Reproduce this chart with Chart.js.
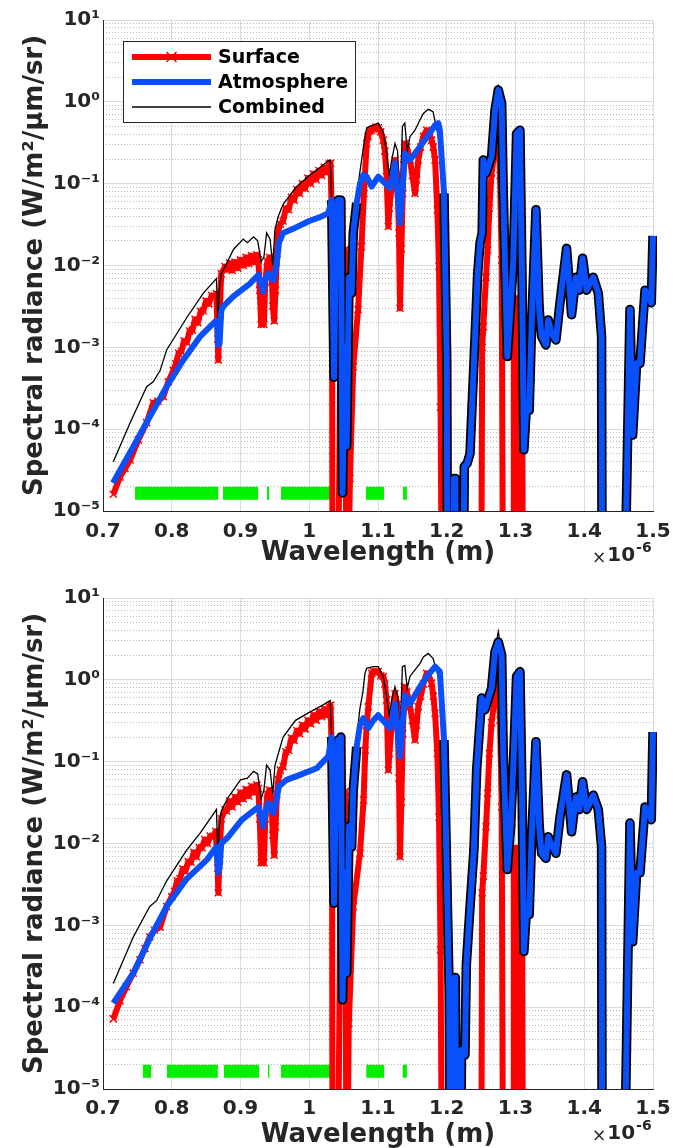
<!DOCTYPE html>
<html>
<head>
<meta charset="utf-8">
<script src="https://cdn.jsdelivr.net/npm/chart.js@4/dist/chart.umd.min.js"></script>
<style>
  body { margin: 0; background: #fff; }
  canvas { display: block; }
</style>
</head>
<body>
<canvas id="topChart" width="686" height="574"></canvas>
<canvas id="bottomChart" width="686" height="574"></canvas>
<script>
// Wavelength in um (axis shows x 1e-6 m), radiance in W/m2/um/sr
// Values below 1e-5 (1e-7) fall off the bottom of the axis

// ---- top panel ----
const surfaceTop = [
  [0.715, 1.6e-5], [0.7247, 2.6e-5], [0.732, 3.3e-5], [0.7393, 4.2e-5], [0.7514, 7.4e-5],
  [0.7635, 1.2e-4], [0.7732, 2.1e-4], [0.780, 2.2e-4], [0.7877, 2.5e-4], [0.795, 3.8e-4],
  [0.8023, 5.2e-4], [0.806, 6.3e-4], [0.810, 8.5e-4], [0.814, 8.9e-4], [0.818, 1.2e-3],
  [0.822, 1.15e-3], [0.826, 1.58e-3], [0.830, 1.62e-3], [0.834, 2.2e-3], [0.838, 2.0e-3],
  [0.842, 2.75e-3], [0.846, 2.8e-3], [0.850, 3.7e-3], [0.854, 3.4e-3], [0.858, 4.3e-3],
  [0.862, 4.2e-3], [0.865, 4.5e-3], [0.8668, 1.26e-3], [0.8677, 7.0e-4], [0.8695, 2.5e-3],
  [0.872, 7.9e-3], [0.8775, 9.7e-3], [0.880, 8.9e-3], [0.884, 1.07e-2], [0.888, 8.7e-3],
  [0.892, 1.1e-2], [0.896, 9.3e-3], [0.900, 1.17e-2], [0.904, 1.0e-2], [0.908, 1.26e-2],
  [0.912, 1.05e-2], [0.916, 1.32e-2], [0.920, 1.1e-2], [0.924, 1.35e-2], [0.926, 1.17e-2],
  [0.928, 5.0e-3], [0.930, 1.9e-3], [0.932, 2.5e-3], [0.934, 1.9e-3], [0.936, 6.3e-3],
  [0.939, 1.12e-2], [0.942, 1.26e-2], [0.945, 1.0e-2], [0.947, 3.2e-3], [0.949, 2.1e-3],
  [0.951, 5.0e-3], [0.953, 1.4e-2], [0.955, 2.7e-2], [0.958, 3.2e-2], [0.962, 3.5e-2],
  [0.966, 5.0e-2], [0.970, 4.8e-2], [0.974, 6.8e-2], [0.978, 6.3e-2], [0.982, 8.5e-2],
  [0.986, 7.6e-2], [0.990, 0.1], [0.994, 8.7e-2], [0.998, 0.117], [1.002, 0.1],
  [1.006, 0.132], [1.010, 0.112], [1.014, 0.145], [1.018, 0.126], [1.022, 0.158],
  [1.026, 0.138], [1.029, 0.174], [1.031, 0.178], [1.033, 3.2e-2], [1.034, 1e-7],
  [1.041, 1e-7], [1.046, 6.3e-3], [1.049, 1.26e-2], [1.052, 1.55e-2], [1.0545, 1e-7],
  [1.0592, 2.5e-5], [1.064, 5.8e-4], [1.071, 2.9e-3], [1.076, 1.7e-2], [1.0795, 7.6e-2],
  [1.0835, 0.31], [1.0855, 0.38], [1.088, 0.44], [1.0908, 0.45], [1.0935, 0.47],
  [1.097, 0.49], [1.1004, 0.48], [1.104, 0.43], [1.1077, 0.34], [1.110, 0.25],
  [1.1125, 0.122], [1.115, 3.0e-2], [1.1165, 5.0e-2], [1.1198, 9.1e-2], [1.1225, 0.141],
  [1.1247, 0.195], [1.128, 0.126], [1.1305, 2.5e-2], [1.132, 3.0e-3], [1.134, 1.6e-2],
  [1.136, 7.6e-2], [1.1375, 0.2], [1.1393, 0.31], [1.142, 0.28], [1.1465, 0.195],
  [1.150, 0.126], [1.1538, 7.6e-2], [1.156, 0.112], [1.1586, 0.195], [1.162, 0.28],
  [1.166, 0.38], [1.1707, 0.45], [1.174, 0.43], [1.178, 0.34], [1.1805, 0.28],
  [1.183, 0.195], [1.1863, 4.8e-2], [1.1887, 9.8e-3], [1.191, 1.86e-4], [1.1935, 1e-7],
  [1.250, 1e-7], [1.2515, 1.0e-3], [1.2532, 1.78e-3], [1.2571, 7.2e-3], [1.2595, 1.55e-2],
  [1.262, 5.0e-2], [1.2652, 0.135], [1.2724, 0.37], [1.275, 0.40], [1.2775, 0.126],
  [1.2799, 1.17e-2], [1.2822, 1e-7], [1.2965, 1e-7], [1.2975, 3.8e-3], [1.299, 1e-7],
  [1.3005, 4.0e-3], [1.302, 1e-7], [1.3035, 3.8e-3], [1.305, 1e-7], [1.3065, 3.5e-3],
  [1.308, 1e-7], [1.3095, 3.2e-3], [1.311, 1e-7]
];

const atmosphereTop = [
  [0.7145, 2.2e-5], [0.744, 6.1e-5], [0.768, 1.42e-4], [0.7926, 3.3e-4], [0.8168, 7.0e-4],
  [0.841, 1.35e-3], [0.863, 2.06e-3], [0.866, 2.1e-3], [0.8675, 1.07e-3], [0.8695, 1.1e-3],
  [0.872, 2.8e-3], [0.875, 3.16e-3], [0.8896, 4.2e-3], [0.9138, 6.0e-3], [0.926, 7.7e-3],
  [0.929, 6.3e-3], [0.933, 4.8e-3], [0.937, 7.1e-3], [0.9405, 8.0e-3], [0.9477, 6.6e-3],
  [0.9525, 1.0e-2], [0.956, 1.9e-2], [0.962, 2.5e-2], [0.980, 2.9e-2], [1.000, 3.5e-2],
  [1.0156, 3.9e-2], [1.0277, 4.35e-2], [1.0326, 6.3e-2], [1.036, 4.3e-4], [1.039, 3.2e-2],
  [1.042, 6.3e-2], [1.044, 1.0e-2], [1.046, 6.3e-2], [1.0484, 1.66e-5], [1.052, 1.0e-3],
  [1.0544, 6.2e-5], [1.058, 7.2e-3], [1.0617, 4.6e-3], [1.064, 2.5e-2], [1.069, 5.8e-2],
  [1.0738, 0.10], [1.0787, 0.128], [1.0835, 0.122], [1.0908, 9.2e-2], [1.1004, 0.122],
  [1.1175, 8.8e-2], [1.1247, 0.178], [1.132, 3.3e-2], [1.1393, 0.234], [1.1465, 0.195],
  [1.161, 0.283], [1.175, 0.41], [1.183, 0.52], [1.1877, 0.55], [1.190, 0.45],
  [1.196, 7.6e-2], [1.2, 7.0e-4], [1.2015, 1e-7], [1.209, 1e-7], [1.2105, 2.5e-5],
  [1.2125, 2.5e-5], [1.214, 1e-7], [1.2235, 1e-7], [1.2255, 3.5e-5], [1.2295, 3.8e-5],
  [1.2338, 5.0e-5], [1.2395, 6.3e-4], [1.245, 7.9e-3], [1.2485, 1.9e-2], [1.2515, 2.5e-2],
  [1.2532, 0.195], [1.2571, 0.134], [1.2652, 0.214], [1.2702, 0.79], [1.275, 1.40],
  [1.2799, 0.96], [1.2822, 7.6e-2], [1.2881, 7.7e-4], [1.293, 3.16e-3], [1.2968, 1.17e-2],
  [1.3016, 0.41], [1.3065, 0.45], [1.3098, 4.6e-3], [1.3122, 5.6e-5], [1.3162, 2.1e-4],
  [1.3199, 1.7e-4], [1.3234, 1.78e-3], [1.3297, 4.8e-2], [1.3345, 2.9e-3], [1.338, 1.35e-3],
  [1.3442, 1.07e-3], [1.3476, 2.16e-3], [1.3525, 1.48e-3], [1.3588, 1.23e-3], [1.3647, 3.5e-3],
  [1.3743, 1.62e-2], [1.3816, 2.5e-3], [1.3879, 7.2e-3], [1.3927, 5.0e-3], [1.3976, 1.23e-2],
  [1.4035, 5.0e-3], [1.4131, 7.2e-3], [1.4204, 4.6e-3], [1.4252, 1.35e-3], [1.4262, 1e-7],
  [1.4568, 1e-7], [1.4665, 2.9e-3], [1.4704, 8.5e-5], [1.4762, 6.4e-4], [1.4811, 6.4e-4],
  [1.4884, 5.0e-3], [1.4975, 3.5e-3], [1.5, 2.3e-2]
];

const combinedTop = [
  [0.715, 4.0e-5], [0.739, 1.17e-4], [0.7635, 3.3e-4], [0.773, 3.8e-4], [0.783, 5.2e-4],
  [0.7926, 9.3e-4], [0.8217, 2.3e-3], [0.846, 4.6e-3], [0.865, 6.9e-3], [0.8672, 2.0e-3],
  [0.869, 5.0e-3], [0.872, 7.9e-3], [0.880, 1.07e-2], [0.890, 1.58e-2], [0.904, 2.1e-2],
  [0.910, 1.9e-2], [0.919, 2.24e-2], [0.925, 2.0e-2], [0.930, 1.12e-2], [0.934, 1.26e-2],
  [0.938, 2.5e-2], [0.943, 2.1e-2], [0.947, 1.0e-2], [0.950, 2.7e-2], [0.955, 4.0e-2],
  [0.962, 5.6e-2], [0.980, 8.9e-2], [1.000, 0.126], [1.0156, 0.158], [1.0277, 0.19],
  [1.0305, 0.195], [1.0326, 6.3e-2], [1.036, 5.0e-4], [1.039, 3.2e-2], [1.042, 6.3e-2],
  [1.044, 1.0e-2], [1.046, 6.3e-2], [1.0484, 3.2e-5], [1.052, 2.0e-3], [1.0544, 1.0e-4],
  [1.058, 1.0e-2], [1.0617, 5.0e-3], [1.064, 3.2e-2], [1.069, 7.1e-2], [1.0738, 0.141],
  [1.078, 0.25], [1.081, 0.375], [1.0835, 0.48], [1.0932, 0.52], [1.1004, 0.55],
  [1.1077, 0.43], [1.1125, 0.234], [1.1163, 0.128], [1.1198, 0.19], [1.1247, 0.31],
  [1.1285, 0.25], [1.132, 4.0e-2], [1.1355, 0.5], [1.139, 0.55], [1.1425, 0.25],
  [1.1465, 0.375], [1.1538, 0.45], [1.161, 0.6], [1.166, 0.72], [1.173, 0.81],
  [1.180, 0.76], [1.1877, 0.375], [1.192, 0.158], [1.196, 7.6e-2], [1.2, 7.0e-4],
  [1.2015, 1e-7], [1.209, 1e-7], [1.2105, 2.5e-5], [1.2125, 2.5e-5], [1.214, 1e-7],
  [1.2235, 1e-7], [1.2255, 3.5e-5], [1.2295, 3.8e-5], [1.2338, 5.0e-5], [1.2395, 6.3e-4],
  [1.245, 7.9e-3], [1.2485, 1.9e-2], [1.2515, 2.5e-2], [1.2532, 0.195], [1.2571, 0.134],
  [1.2652, 0.214], [1.2702, 0.89], [1.275, 1.53], [1.2799, 1.0], [1.2822, 7.6e-2],
  [1.2881, 7.7e-4], [1.293, 3.16e-3], [1.2968, 1.17e-2], [1.3016, 0.41], [1.3065, 0.45],
  [1.3098, 4.6e-3], [1.3122, 5.6e-5], [1.3162, 2.1e-4], [1.3199, 1.7e-4], [1.3234, 1.78e-3],
  [1.3297, 4.8e-2], [1.3345, 2.9e-3], [1.338, 1.35e-3], [1.3442, 1.07e-3], [1.3476, 2.16e-3],
  [1.3525, 1.48e-3], [1.3588, 1.23e-3], [1.3647, 3.5e-3], [1.3743, 1.62e-2], [1.3816, 2.5e-3],
  [1.3879, 7.2e-3], [1.3927, 5.0e-3], [1.3976, 1.23e-2], [1.4035, 5.0e-3], [1.4131, 7.2e-3],
  [1.4204, 4.6e-3], [1.4252, 1.35e-3], [1.4262, 1e-7], [1.4568, 1e-7], [1.4665, 2.9e-3],
  [1.4704, 8.5e-5], [1.4762, 6.4e-4], [1.4811, 6.4e-4], [1.4884, 5.0e-3], [1.4975, 3.5e-3],
  [1.5, 2.3e-2]
];

// green window bars [start, end]
const windowsTop = [
  [0.7466, 0.8676], [0.8746, 0.9255], [0.9385, 0.9415], [0.959, 1.033],
  [1.0826, 1.1087], [1.1364, 1.142]
];

// ---- bottom panel ----
const surfaceBottom = [
  [0.715, 7.2e-5], [0.7247, 1.2e-4], [0.734, 1.78e-4], [0.744, 2.6e-4], [0.7538, 3.8e-4],
  [0.761, 5.2e-4], [0.768, 7.2e-4], [0.775, 8.7e-4], [0.783, 9.5e-4], [0.7926, 1.7e-3],
  [0.800, 2.24e-3], [0.804, 2.6e-3], [0.808, 3.5e-3], [0.812, 3.7e-3], [0.816, 4.9e-3],
  [0.820, 4.6e-3], [0.824, 6.0e-3], [0.828, 5.9e-3], [0.832, 7.8e-3], [0.836, 6.9e-3],
  [0.840, 8.9e-3], [0.844, 8.9e-3], [0.848, 1.12e-2], [0.852, 1.0e-2], [0.856, 1.23e-2],
  [0.860, 1.23e-2], [0.864, 1.41e-2], [0.8668, 5.0e-3], [0.8677, 2.5e-3], [0.8695, 6.3e-3],
  [0.872, 2.0e-2], [0.8775, 2.6e-2], [0.880, 2.5e-2], [0.884, 3.3e-2], [0.888, 2.8e-2],
  [0.892, 3.7e-2], [0.896, 3.2e-2], [0.900, 4.2e-2], [0.904, 3.5e-2], [0.908, 4.6e-2],
  [0.912, 3.8e-2], [0.916, 5.0e-2], [0.920, 4.2e-2], [0.924, 5.2e-2], [0.926, 4.7e-2],
  [0.928, 2.0e-2], [0.930, 5.8e-3], [0.932, 7.9e-3], [0.934, 5.8e-3], [0.936, 2.0e-2],
  [0.939, 4.0e-2], [0.942, 4.5e-2], [0.945, 3.5e-2], [0.947, 1.26e-2], [0.949, 7.2e-3],
  [0.951, 1.6e-2], [0.953, 4.0e-2], [0.955, 6.0e-2], [0.958, 7.9e-2], [0.962, 8.7e-2],
  [0.966, 0.132], [0.970, 0.138], [0.974, 0.195], [0.978, 0.182], [0.982, 0.24],
  [0.986, 0.22], [0.990, 0.28], [0.994, 0.25], [0.998, 0.32], [1.002, 0.29],
  [1.006, 0.37], [1.010, 0.32], [1.014, 0.41], [1.018, 0.355], [1.022, 0.44],
  [1.026, 0.37], [1.029, 0.47], [1.031, 0.49], [1.033, 0.1], [1.034, 1e-7],
  [1.041, 1e-7], [1.046, 1.6e-2], [1.049, 4.0e-2], [1.052, 4.3e-2], [1.0545, 1e-7],
  [1.0575, 6.3e-5], [1.064, 1.7e-3], [1.0738, 7.6e-3], [1.079, 3.4e-2], [1.0815, 0.138],
  [1.0835, 0.28], [1.086, 0.47], [1.0908, 1.2], [1.0935, 1.26], [1.097, 1.26],
  [1.1004, 1.26], [1.104, 1.12], [1.1077, 1.1], [1.110, 0.89], [1.1125, 0.57],
  [1.115, 7.9e-2], [1.1165, 0.126], [1.1198, 0.27], [1.1225, 0.40], [1.1247, 0.68],
  [1.128, 0.50], [1.1305, 6.3e-2], [1.132, 6.9e-3], [1.134, 3.2e-2], [1.136, 0.22],
  [1.1375, 0.50], [1.1393, 0.82], [1.142, 0.71], [1.1465, 0.47], [1.150, 0.32],
  [1.1538, 0.184], [1.156, 0.28], [1.1586, 0.47], [1.162, 0.63], [1.166, 0.89],
  [1.1707, 1.2], [1.174, 1.12], [1.178, 0.91], [1.1805, 0.63], [1.183, 0.39],
  [1.1863, 0.126], [1.1887, 2.1e-2], [1.191, 5.0e-4], [1.1935, 1e-7], [1.250, 1e-7],
  [1.2515, 2.5e-3], [1.2532, 4.0e-3], [1.2571, 1.6e-2], [1.2595, 4.1e-2], [1.262, 0.126],
  [1.2652, 0.30], [1.2724, 0.91], [1.275, 0.95], [1.2775, 0.32], [1.2799, 2.8e-2],
  [1.2822, 1e-7], [1.2965, 1e-7], [1.2975, 8.7e-3], [1.299, 1e-7], [1.3005, 8.9e-3],
  [1.302, 1e-7], [1.3035, 8.3e-3], [1.305, 1e-7], [1.3065, 7.6e-3], [1.308, 1e-7],
  [1.3095, 7.6e-3], [1.311, 1e-7]
];

const atmosphereBottom = [
  [0.715, 1.12e-4], [0.744, 2.6e-4], [0.768, 6.9e-4], [0.7926, 1.7e-3], [0.8217, 3.7e-3],
  [0.851, 6.3e-3], [0.865, 9.1e-3], [0.8675, 4.4e-3], [0.8695, 5.0e-3], [0.872, 1.0e-2],
  [0.8824, 1.21e-2], [0.9018, 1.94e-2], [0.9262, 2.8e-2], [0.929, 2.24e-2], [0.933, 1.62e-2],
  [0.937, 2.6e-2], [0.9405, 3.1e-2], [0.9477, 2.34e-2], [0.9525, 3.5e-2], [0.956, 5.0e-2],
  [0.967, 6.0e-2], [0.9865, 6.9e-2], [1.0108, 8.3e-2], [1.0277, 0.116], [1.0326, 0.20],
  [1.036, 1.86e-3], [1.039, 6.3e-2], [1.042, 0.184], [1.044, 3.2e-2], [1.046, 0.20],
  [1.0484, 1.23e-4], [1.052, 4.4e-3], [1.0544, 2.6e-4], [1.058, 1.62e-2], [1.0617, 9.1e-3],
  [1.064, 4.5e-2], [1.069, 0.152], [1.0738, 0.28], [1.0787, 0.34], [1.086, 0.257],
  [1.0932, 0.32], [1.1004, 0.37], [1.1175, 0.257], [1.1247, 0.51], [1.132, 0.115],
  [1.1393, 0.65], [1.1465, 0.51], [1.161, 0.82], [1.172, 1.12], [1.183, 1.45],
  [1.190, 1.26], [1.196, 0.184], [1.2, 4.4e-3], [1.2035, 1.6e-4], [1.2055, 1e-7],
  [1.2095, 1e-7], [1.2115, 2.3e-4], [1.2125, 2.3e-4], [1.2145, 1e-7], [1.2195, 1e-7],
  [1.2215, 3.0e-5], [1.2265, 2.6e-5], [1.2285, 3.3e-4], [1.2335, 1.5e-3], [1.2395, 8.3e-3],
  [1.2435, 7.9e-2], [1.2508, 0.60], [1.2555, 0.43], [1.2652, 0.79], [1.2702, 2.2],
  [1.275, 2.9], [1.2799, 2.0], [1.2822, 0.126], [1.2881, 4.8e-3], [1.293, 1.62e-2],
  [1.2968, 8.7e-2], [1.3016, 1.1], [1.3065, 1.26], [1.3098, 2.8e-2], [1.3122, 4.8e-4],
  [1.3162, 1.7e-3], [1.3199, 1.35e-3], [1.3234, 1.1e-2], [1.3297, 0.175], [1.3345, 1.62e-2],
  [1.338, 7.6e-3], [1.3442, 6.6e-3], [1.3476, 1.21e-2], [1.3525, 9.5e-3], [1.3588, 7.6e-3],
  [1.3647, 2.1e-2], [1.3743, 6.9e-2], [1.3816, 1.39e-2], [1.3879, 3.7e-2], [1.3927, 2.6e-2],
  [1.3976, 5.7e-2], [1.4035, 2.6e-2], [1.4131, 3.9e-2], [1.4204, 2.6e-2], [1.4252, 9.1e-3],
  [1.4262, 1e-7], [1.4568, 1e-7], [1.4665, 1.78e-2], [1.4704, 6.3e-4], [1.4762, 4.4e-3],
  [1.4811, 4.4e-3], [1.4884, 2.8e-2], [1.4975, 1.95e-2], [1.5, 0.23]
];

const combinedBottom = [
  [0.715, 1.95e-4], [0.744, 7.2e-4], [0.768, 1.7e-3], [0.778, 2.0e-3], [0.7926, 3.5e-3],
  [0.8217, 8.3e-3], [0.841, 1.33e-2], [0.865, 2.6e-2], [0.8672, 6.3e-3], [0.869, 1.6e-2],
  [0.872, 2.5e-2], [0.8824, 3.7e-2], [0.900, 6.0e-2], [0.910, 6.3e-2], [0.919, 7.6e-2],
  [0.925, 7.1e-2], [0.930, 3.5e-2], [0.934, 4.5e-2], [0.938, 9.1e-2], [0.943, 7.9e-2],
  [0.947, 4.0e-2], [0.950, 8.9e-2], [0.955, 0.126], [0.962, 0.20], [0.980, 0.32],
  [1.000, 0.40], [1.0156, 0.47], [1.0277, 0.54], [1.0305, 0.56], [1.0326, 0.20],
  [1.036, 2.5e-3], [1.039, 6.3e-2], [1.042, 0.2], [1.044, 4.0e-2], [1.046, 0.2],
  [1.0484, 2.0e-4], [1.052, 6.3e-3], [1.0544, 4.0e-4], [1.058, 2.0e-2], [1.0617, 1.12e-2],
  [1.064, 5.6e-2], [1.069, 0.2], [1.0738, 0.45], [1.078, 0.71], [1.081, 1.2],
  [1.0835, 1.38], [1.0932, 1.45], [1.1004, 1.45], [1.1077, 1.1], [1.1125, 0.63],
  [1.1163, 0.37], [1.1198, 0.56], [1.1247, 0.82], [1.1285, 0.63], [1.132, 0.184],
  [1.1355, 1.45], [1.139, 1.5], [1.1425, 0.79], [1.1465, 1.1], [1.1538, 1.32],
  [1.161, 1.58], [1.166, 1.9], [1.173, 2.1], [1.180, 1.83], [1.1877, 1.1],
  [1.192, 0.5], [1.196, 0.184], [1.2, 4.4e-3], [1.2035, 1.6e-4], [1.2055, 1e-7],
  [1.2095, 1e-7], [1.2115, 2.3e-4], [1.2125, 2.3e-4], [1.2145, 1e-7], [1.2195, 1e-7],
  [1.2215, 3.0e-5], [1.2265, 2.6e-5], [1.2285, 3.3e-4], [1.2335, 1.5e-3], [1.2395, 8.3e-3],
  [1.2435, 7.9e-2], [1.2508, 0.60], [1.2555, 0.43], [1.2652, 0.79], [1.2702, 2.4],
  [1.275, 3.9], [1.2799, 2.1], [1.2822, 0.126], [1.2881, 4.8e-3], [1.293, 1.62e-2],
  [1.2968, 8.7e-2], [1.3016, 1.1], [1.3065, 1.26], [1.3098, 2.8e-2], [1.3122, 4.8e-4],
  [1.3162, 1.7e-3], [1.3199, 1.35e-3], [1.3234, 1.1e-2], [1.3297, 0.175], [1.3345, 1.62e-2],
  [1.338, 7.6e-3], [1.3442, 6.6e-3], [1.3476, 1.21e-2], [1.3525, 9.5e-3], [1.3588, 7.6e-3],
  [1.3647, 2.1e-2], [1.3743, 6.9e-2], [1.3816, 1.39e-2], [1.3879, 3.7e-2], [1.3927, 2.6e-2],
  [1.3976, 5.7e-2], [1.4035, 2.6e-2], [1.4131, 3.9e-2], [1.4204, 2.6e-2], [1.4252, 9.1e-3],
  [1.4262, 1e-7], [1.4568, 1e-7], [1.4665, 1.78e-2], [1.4704, 6.3e-4], [1.4762, 4.4e-3],
  [1.4811, 4.4e-3], [1.4884, 2.8e-2], [1.4975, 1.95e-2], [1.5, 0.23]
];

const windowsBottom = [
  [0.758, 0.770], [0.793, 0.867], [0.876, 0.927], [0.940, 0.942], [0.959, 1.033],
  [1.083, 1.109], [1.136, 1.142]
];

const windowLevel = 1.65e-5;
const xTicks = [0.7, 0.8, 0.9, 1, 1.1, 1.2, 1.3, 1.4, 1.5];
const yDecades = [-5, -4, -3, -2, -1, 0, 1];

const RED = 'rgb(255,0,0)';
const BLUE = 'rgb(10,80,250)';
const GREEN = 'rgb(0,240,0)';
const INK = '#262626';
const FONT = 'DejaVu Sans';

Chart.defaults.font.family = FONT;

const pts = pairs => pairs.map(([x, y]) => ({ x, y }));

function windowPoints(bands) {
    const out = [];
    bands.forEach(([a, b]) => {
        out.push({ x: a, y: windowLevel }, { x: b, y: windowLevel }, { x: b, y: null });
    });
    return out;
}

const SUP = { '-': '\u207b', '0': '\u2070', '1': '\u00b9', '2': '\u00b2', '3': '\u00b3', '4': '\u2074', '5': '\u2075', '6': '\u2076', '7': '\u2077', '8': '\u2078', '9': '\u2079' };
const sup = s => String(s).split('').map(c => SUP[c]).join('');

// 1..9 per decade, majors at powers of ten
function logTicks(scale) {
    const ticks = [];
    yDecades.forEach(e => {
        const last = e === yDecades[yDecades.length - 1] ? 1 : 9;
        for (let m = 1; m <= last; m++) {
            ticks.push({ value: m * Math.pow(10, e), major: m === 1 });
        }
    });
    scale.ticks = ticks;
}

// black edge under the blue line where it sits on the combined curve
const outlineColor = ctx => {
    const a = ctx.p0.parsed.x, b = ctx.p1.parsed.x;
    return (a >= 1.0326 && b <= 1.07) || a >= 1.196 ? '#000' : 'rgba(0,0,0,0)';
};

const legendBox = {
    id: 'legendBox',
    afterDatasetsDraw(chart, args, opts) {
        if (!opts.show) return;
        const ctx = chart.ctx;
        const items = chart.data.datasets.slice(0, 3);
        ctx.save();
        ctx.fillStyle = '#fff';
        ctx.fillRect(123.5, 41.5, 232, 81);
        ctx.strokeStyle = INK;
        ctx.lineWidth = 1;
        ctx.strokeRect(123.5, 41.5, 232, 81);
        items.forEach((ds, i) => {
            const y = 57 + i * 25;
            ctx.strokeStyle = ds.borderColor;
            ctx.lineWidth = ds.borderWidth;
            ctx.beginPath();
            ctx.moveTo(132, y);
            ctx.lineTo(211, y);
            ctx.stroke();
            if (ds.pointRadius > 0) {
                const r = ds.pointRadius;
                ctx.lineWidth = ds.pointBorderWidth;
                ctx.beginPath();
                ctx.moveTo(171.5 - r, y - r); ctx.lineTo(171.5 + r, y + r);
                ctx.moveTo(171.5 - r, y + r); ctx.lineTo(171.5 + r, y - r);
                ctx.stroke();
            }
            ctx.fillStyle = '#000';
            ctx.font = 'bold 19px "' + FONT + '"';
            ctx.textBaseline = 'middle';
            ctx.textAlign = 'left';
            ctx.fillText(ds.label, 218, y + 1);
        });
        ctx.restore();
    }
};

const axisExponent = {
    id: 'axisExponent',
    afterDraw(chart) {
        const ctx = chart.ctx;
        const { right, bottom } = chart.chartArea;
        ctx.save();
        ctx.fillStyle = INK;
        ctx.textBaseline = 'middle';
        ctx.textAlign = 'left';
        let x = right - 61;
        ctx.font = '17px "' + FONT + '"';
        ctx.fillText('\u00d7', x, bottom + 48);
        x += ctx.measureText('\u00d7').width + 1;
        ctx.font = 'bold 20px "' + FONT + '"';
        ctx.fillText('10', x, bottom + 45);
        x += ctx.measureText('10').width + 1;
        ctx.font = 'bold 14px "' + FONT + '"';
        ctx.fillText('-6', x, bottom + 37);
        ctx.restore();
    }
};

function makeChart(id, surface, atmosphere, combined, windows, layout) {
    const lineClip = { left: 0, top: 0, right: 4, bottom: 0 };
    return new Chart(document.getElementById(id).getContext('2d'), {
        type: 'line',
        data: {
            datasets: [{
                label: 'Surface',
                data: pts(surface),
                borderColor: RED,
                backgroundColor: RED,
                borderWidth: 6,
                borderJoinStyle: 'round',
                pointStyle: 'crossRot',
                pointRadius: 5,
                pointBorderWidth: 1.5,
                pointBorderColor: RED,
                clip: lineClip,
                order: 4
            }, {
                label: 'Atmosphere',
                data: pts(atmosphere),
                borderColor: BLUE,
                borderWidth: 6,
                borderJoinStyle: 'round',
                pointRadius: 0,
                clip: lineClip,
                order: 1
            }, {
                label: 'Combined',
                data: pts(combined),
                borderColor: '#000',
                borderWidth: 1.3,
                pointRadius: 0,
                clip: lineClip,
                order: 3
            }, {
                label: 'outline',
                data: pts(atmosphere),
                borderColor: '#000',
                borderWidth: 9.5,
                borderJoinStyle: 'round',
                pointRadius: 0,
                segment: { borderColor: outlineColor },
                clip: lineClip,
                order: 2
            }, {
                label: 'windows',
                data: windowPoints(windows),
                borderColor: GREEN,
                borderWidth: 13,
                borderCapStyle: 'butt',
                pointRadius: 0,
                spanGaps: false,
                order: 5
            }]
        },
        options: {
            responsive: false,
            animation: false,
            events: [],
            devicePixelRatio: 1,
            layout: { padding: { top: layout.top, right: 33, bottom: 0, left: 0 } },
            plugins: {
                legend: { display: false },
                tooltip: { enabled: false },
                legendBox: { show: layout.legend }
            },
            scales: {
                x: {
                    type: 'linear',
                    min: 0.7,
                    max: 1.5,
                    afterBuildTicks: s => { s.ticks = xTicks.map(v => ({ value: v })); },
                    afterFit: s => { s.height = layout.xHeight; },
                    grid: { color: '#dcdcdc', drawTicks: false },
                    border: { color: INK, width: 1 },
                    ticks: {
                        color: INK,
                        padding: layout.xPad,
                        maxRotation: 0,
                        autoSkip: false,
                        font: { size: 20, weight: 'bold' },
                        callback: v => String(Math.round(v * 10) / 10)
                    },
                    title: {
                        display: true,
                        text: 'Wavelength (m)',
                        color: INK,
                        font: { size: 26, weight: 'bold', lineHeight: 1 },
                        padding: { top: 0, bottom: layout.titlePad }
                    }
                },
                y: {
                    type: 'logarithmic',
                    position: 'left',
                    min: 1e-5,
                    max: 10,
                    afterBuildTicks: logTicks,
                    afterFit: s => { s.width = 103; },
                    grid: {
                        color: ctx => ctx.tick && ctx.tick.major ? '#dcdcdc' : 'rgba(0,0,0,0)',
                        drawTicks: false
                    },
                    border: { color: INK, width: 1 },
                    ticks: {
                        color: INK,
                        padding: 3,
                        autoSkip: false,
                        font: { size: 20, weight: 'bold' },
                        callback: (v, i, ticks) => ticks[i].major ? '10' + sup(Math.round(Math.log10(v))) : ''
                    },
                    title: {
                        display: true,
                        text: 'Spectral radiance (W/m\u00b2/\u03bcm/sr)',
                        color: INK,
                        font: { size: 26, weight: 'bold', lineHeight: 1 },
                        padding: { top: 22, bottom: 0 }
                    }
                },
                yMinor: {
                    type: 'logarithmic',
                    position: 'left',
                    min: 1e-5,
                    max: 10,
                    afterBuildTicks: logTicks,
                    afterFit: s => { s.width = 0; },
                    grid: {
                        color: ctx => ctx.tick && !ctx.tick.major ? '#b8b8b8' : 'rgba(0,0,0,0)',
                        drawTicks: false
                    },
                    border: { display: false, dash: [1, 2] },
                    ticks: { display: false }
                }
            }
        },
        plugins: [legendBox, axisExponent]
    });
}

makeChart('topChart', surfaceTop, atmosphereTop, combinedTop, windowsTop,
    { top: 20, xHeight: 63, xPad: 9, titlePad: 8, legend: true });
makeChart('bottomChart', surfaceBottom, atmosphereBottom, combinedBottom, windowsBottom,
    { top: 24, xHeight: 59, xPad: 8, titlePad: 0, legend: false });
</script>
</body>
</html>
